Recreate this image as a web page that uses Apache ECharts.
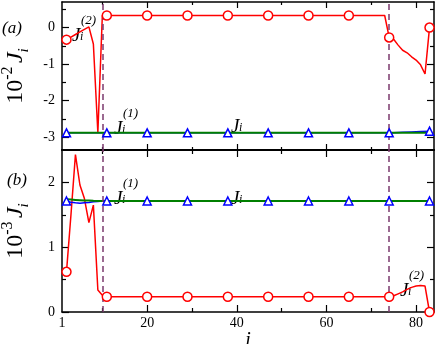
<!DOCTYPE html>
<html>
<head>
<meta charset="utf-8">
<script src="https://cdn.jsdelivr.net/npm/echarts@6.0.0/dist/echarts.min.js"></script>
<style>
html, body { margin: 0; padding: 0; background: #fff; }
#chart { width: 436px; height: 344px; }
</style>
</head>
<body>
<div id="chart"></div>
<script>
// site index i where markers sit
var markI = [2, 11, 20, 29, 38, 47, 56, 65, 74, 83];

// panel (a), units of 1e-2
var redAI = [2, 3, 4, 5, 6, 7, 8, 9, 10, 73, 74, 75, 76, 77, 78, 79, 80, 81, 82, 83];
var redA = [-0.33, -0.26, -0.19, -0.12, -0.05, 0.02, -0.45, -2.88, 0.33, 0.33, -0.27, -0.32, -0.48, -0.62, -0.69, -0.80, -0.89, -1.02, -1.27, 0.0];
var redAMarks = [-0.33, 0.33, 0.33, 0.33, 0.33, 0.33, 0.33, 0.33, -0.27, 0.0];
var blueAI = [2, 74, 75, 77, 79, 81, 83];
var blueA = [-2.88, -2.88, -2.875, -2.865, -2.855, -2.845, -2.835];
var blueAMarks = [-2.88, -2.88, -2.88, -2.88, -2.88, -2.88, -2.88, -2.88, -2.88, -2.835];
var greenAI = [2, 83];
var greenA = [-2.88, -2.88];

// panel (b), units of 1e-3
var redBI = [2, 3, 4, 5, 6, 7, 8, 9, 10, 11, 74, 75, 76, 77, 78, 79, 80, 81, 82, 83];
var redB = [0.62, 1.50, 2.43, 1.96, 1.75, 1.38, 1.65, 0.34, 0.26, 0.235, 0.235, 0.25, 0.28, 0.31, 0.35, 0.38, 0.40, 0.41, 0.40, 0.0];
var redBMarks = [0.62, 0.235, 0.235, 0.235, 0.235, 0.235, 0.235, 0.235, 0.235, 0.0];
var blueBI = [2, 3, 4, 5, 6, 7, 8, 9, 10, 83];
var blueB = [1.71, 1.695, 1.685, 1.68, 1.685, 1.69, 1.70, 1.705, 1.713, 1.713];
var blueBMarks = [1.713, 1.713, 1.713, 1.713, 1.713, 1.713, 1.713, 1.713, 1.713, 1.713];
var greenBI = [2, 3, 4, 5, 6, 7, 8, 9, 83];
var greenB = [1.74, 1.735, 1.73, 1.725, 1.72, 1.72, 1.715, 1.713, 1.713];

// dashed guides
var guideI = [10, 74];

// ticks
var xLabels = [1, 20, 40, 60, 80];
var xMajor = [20, 40, 60, 80];
var xMinor = [10, 30, 50, 70];
var yALabels = [-3, -2, -1, 0];
var yAMinor = [-2.5, -1.5, -0.5, 0.5];
var yBLabels = [0, 1, 2];
var yBMinor = [0.5, 1.5];

var FONT = 'Liberation Serif';

function zip(xs, ys) {
    return xs.map(function(x, k) { return [x, ys[k]]; });
}

function xAxis(grid, pos, ticks, len, lineW, labels) {
    return {
        type: 'value', gridIndex: grid, position: pos, min: 1, max: 84,
        axisLine: { show: lineW > 0, onZero: false, lineStyle: { color: '#000', width: lineW } },
        axisTick: { show: true, inside: true, length: len, customValues: ticks, lineStyle: { color: '#000', width: 1.2 } },
        axisLabel: { show: !!labels, customValues: labels || [], color: '#000', fontFamily: FONT, fontSize: 14, margin: 4 },
        splitLine: { show: false }
    };
}

function yAxis(grid, pos, min, max, ticks, len, lineW, labels) {
    return {
        type: 'value', gridIndex: grid, position: pos, min: min, max: max,
        axisLine: { show: lineW > 0, onZero: false, lineStyle: { color: '#000', width: lineW } },
        axisTick: { show: true, inside: true, length: len, customValues: ticks, lineStyle: { color: '#000', width: 1.2 } },
        axisLabel: { show: !!labels, customValues: labels || [], color: '#000', fontFamily: FONT, fontSize: 14, margin: 7 },
        splitLine: { show: false }
    };
}

var xAxes = [
    xAxis(0, 'bottom', xMajor, 6, 2, null),
    xAxis(0, 'top', xMajor, 6, 1.5, null),
    xAxis(0, 'bottom', xMinor, 3, 0, null),
    xAxis(0, 'top', xMinor, 3, 0, null),
    xAxis(1, 'bottom', xMajor, 7, 1.5, xLabels),
    xAxis(1, 'top', xMajor, 7, 1.5, null),
    xAxis(1, 'bottom', xMinor, 4, 0, null),
    xAxis(1, 'top', xMinor, 4, 0, null)
];
xAxes[4].name = 'i';
xAxes[4].nameLocation = 'middle';
xAxes[4].nameGap = 12;
xAxes[4].nameTextStyle = { fontFamily: FONT, fontStyle: 'italic', fontSize: 20, color: '#000' };

var yAxes = [
    yAxis(0, 'left', -3.35, 0.7, yALabels, 7, 1.5, yALabels),
    yAxis(0, 'right', -3.35, 0.7, yALabels, 7, 1.5, null),
    yAxis(0, 'left', -3.35, 0.7, yAMinor, 4, 0, null),
    yAxis(0, 'right', -3.35, 0.7, yAMinor, 4, 0, null),
    yAxis(1, 'left', 0, 2.5, yBLabels, 7, 1.5, yBLabels),
    yAxis(1, 'right', 0, 2.5, yBLabels, 7, 1.5, null),
    yAxis(1, 'left', 0, 2.5, yBMinor, 4, 0, null),
    yAxis(1, 'right', 0, 2.5, yBMinor, 4, 0, null)
];

var titleRich = {
    n: { fontFamily: FONT, fontSize: 24, color: '#000' },
    sup: { fontFamily: FONT, fontSize: 16, color: '#000', verticalAlign: 'top', lineHeight: 32 },
    j: { fontFamily: FONT, fontSize: 24, fontStyle: 'italic', color: '#000' },
    sub: { fontFamily: FONT, fontSize: 15, fontStyle: 'italic', color: '#000', verticalAlign: 'bottom', lineHeight: 32 }
};
[[0, '-2'], [4, '-3']].forEach(function(t) {
    var ax = yAxes[t[0]];
    ax.name = '{n|10}{sup|' + t[1] + '} {j|J}{sub|i}';
    ax.nameLocation = 'middle';
    ax.nameGap = 30;
    ax.nameTextStyle = { rich: titleRich, lineHeight: 32 };
});

function lineSeries(grid, xs, ys, color, width) {
    return {
        type: 'line', xAxisIndex: grid * 4, yAxisIndex: grid * 4,
        data: zip(xs, ys), showSymbol: false, symbol: 'none',
        lineStyle: { color: color, width: width }, z: 3
    };
}

function markSeries(grid, ys, symbol, color) {
    return {
        type: 'scatter', xAxisIndex: grid * 4, yAxisIndex: grid * 4,
        data: zip(markI, ys), symbol: symbol, symbolSize: symbol === 'circle' ? 9 : 8,
        itemStyle: { color: '#fff', borderColor: color, borderWidth: 1.5, opacity: 1 }, z: 5
    };
}

function guideSeries(grid) {
    return {
        type: 'line', xAxisIndex: grid * 4, yAxisIndex: grid * 4, data: [], z: 4,
        markLine: {
            silent: true, symbol: 'none', animation: false,
            label: { show: false },
            lineStyle: { color: '#7b3a6e', width: 1.5, type: [6, 4] },
            data: guideI.map(function(v) { return { xAxis: v }; })
        }
    };
}

var series = [
    lineSeries(0, redAI, redA, '#ff0000', 1.5),
    lineSeries(0, blueAI, blueA, '#0000ff', 1.5),
    lineSeries(0, greenAI, greenA, '#007f00', 2),
    guideSeries(0),
    markSeries(0, redAMarks, 'circle', '#ff0000'),
    markSeries(0, blueAMarks, 'triangle', '#0000ff'),
    lineSeries(1, redBI, redB, '#ff0000', 1.5),
    lineSeries(1, blueBI, blueB, '#0000ff', 1.5),
    lineSeries(1, greenBI, greenB, '#007f00', 2),
    guideSeries(1),
    markSeries(1, redBMarks, 'circle', '#ff0000'),
    markSeries(1, blueBMarks, 'triangle', '#0000ff')
];

// J_i annotations: anchor = left / baseline of the J
function jLabel(x, y, sup) {
    var els = [
        { type: 'text', x: x, y: y, style: { text: 'J', font: 'italic 19px ' + FONT, fill: '#000', textBaseline: 'alphabetic' } },
        { type: 'text', x: x + 8, y: y + 5, style: { text: 'i', font: 'italic 12px ' + FONT, fill: '#000', textBaseline: 'alphabetic' } }
    ];
    if (sup) {
        els.push({ type: 'text', x: x + 9, y: y - 12, style: { text: sup, font: 'italic 13px ' + FONT, fill: '#000', textBaseline: 'alphabetic' } });
    }
    return els;
}

var graphics = [].concat(
    [{ type: 'text', x: 2, y: 20, style: { text: '(a)', font: 'italic 17px ' + FONT, fill: '#000', textBaseline: 'alphabetic' } },
     { type: 'text', x: 7, y: 172, style: { text: '(b)', font: 'italic 17px ' + FONT, fill: '#000', textBaseline: 'alphabetic' } }],
    jLabel(72, 26, '(2)'),
    jLabel(114, 119, '(1)'),
    jLabel(231, 117, null),
    jLabel(114, 189, '(1)'),
    jLabel(231, 189, null),
    jLabel(400, 281, '(2)')
);

var chart = echarts.init(document.getElementById('chart'), null, { renderer: 'canvas' });
chart.setOption({
    animation: false,
    backgroundColor: '#fff',
    grid: [
        { left: 62, right: 2, top: 2, height: 148, outerBoundsMode: 'none', containLabel: false },
        { left: 62, right: 2, top: 150, height: 162, outerBoundsMode: 'none', containLabel: false }
    ],
    xAxis: xAxes,
    yAxis: yAxes,
    series: series,
    graphic: graphics
});
</script>
</body>
</html>
